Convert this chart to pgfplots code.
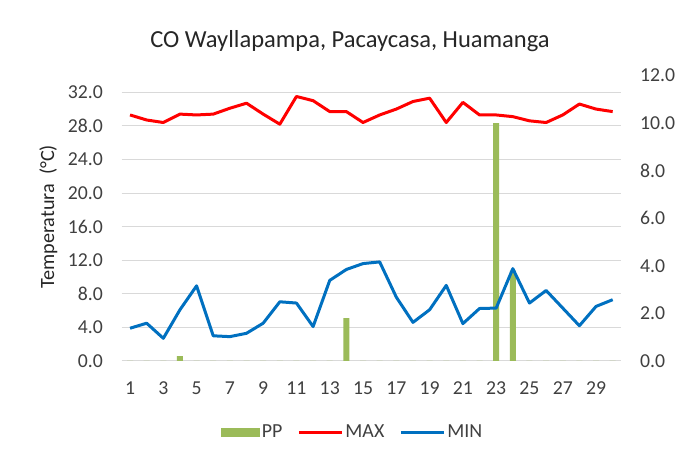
\documentclass[border=0pt]{standalone}
\usepackage{pgfplots}
\pgfplotsset{compat=1.18}
\usepackage{fontspec}
\setmainfont{Carlito}
\definecolor{ppgreen}{HTML}{9BBB59}
\definecolor{maxred}{HTML}{FF0000}
\definecolor{minblue}{HTML}{0070C0}
\definecolor{gridgray}{HTML}{D9D9D9}
\definecolor{txt}{HTML}{404040}

\pgfplotstableread{
day pp max min
1 0 29.3 3.9
2 0 28.7 4.5
3 0 28.4 2.7
4 0.2 29.4 6.1
5 0 29.3 8.95
6 0 29.4 3.0
7 0 30.1 2.9
8 0 30.7 3.3
9 0 29.4 4.5
10 0 28.2 7.05
11 0 31.5 6.9
12 0 31.0 4.1
13 0 29.7 9.6
14 1.8 29.7 10.9
15 0 28.4 11.6
16 0 29.3 11.8
17 0 30.0 7.6
18 0 30.9 4.6
19 0 31.3 6.1
20 0 28.4 9.0
21 0 30.8 4.45
22 0 29.3 6.25
23 10.0 29.3 6.3
24 3.8 29.1 11.0
25 0 28.6 6.9
26 0 28.4 8.4
27 0 29.3 6.3
28 0 30.6 4.2
29 0 30.0 6.5
30 0 29.7 7.3
}\datatable

\pgfplotsset{
  common/.style={
    scale only axis, width=499.3bp, height=285.5bp,
    at={(121.7bp,94bp)}, anchor=south west,
    xmin=0.5, xmax=30.5,
    axis line style={draw=none}, tick style={draw=none},
    /pgf/number format/assume math mode=true,
    ticklabel style={font=\fontsize{19.8}{20}\selectfont, text=txt, inner sep=0pt},
  }
}

\begin{document}
\begin{tikzpicture}[x=1bp,y=1bp]
\useasboundingbox (0,0) rectangle (684,455);
\node[font=\fontsize{24.6}{27}\selectfont, text=black!85] at (350,414) {CO Wayllapampa, Pacaycasa, Huamanga};

% axis 1: left scale, grid, labels
\begin{axis}[common,
  ymin=0, ymax=34,
  ytick={0,4,...,32}, xtick={1,3,...,29},
  ymajorgrids, grid style={gridgray, line width=1bp},
  y tick label style={/pgf/number format/fixed, /pgf/number format/fixed zerofill, /pgf/number format/precision=1, anchor=east, xshift=-18.7bp},
  xticklabel style={anchor=north, yshift=-21bp},
  ylabel={Temperatura\ \ (°C)},
  ylabel style={at={(axis description cs:-0.147,0.505)}, anchor=center, font=\fontsize{20.3}{21}\selectfont, text=black!85},
]
\end{axis}

% axis 2: right scale, PP bars
\begin{axis}[common,
  ymin=0, ymax=12,
  axis y line*=right, axis x line=none,
  ytick={0,2,...,12},
  y tick label style={/pgf/number format/fixed, /pgf/number format/fixed zerofill, /pgf/number format/precision=1, anchor=west, xshift=19bp},
  ybar, bar width=6bp, bar shift=0pt,
]
\addplot[fill=ppgreen, draw=none] table[x=day, y=pp] {\datatable};
\end{axis}

% axis 3: lines on top
\begin{axis}[common,
  ymin=0, ymax=34,
  hide axis,
  legend columns=3,
  legend style={draw=none, fill=none, at={(0.463,-0.249)}, anchor=center,
    font=\fontsize{20}{21}\selectfont, text=txt,
    /tikz/every even column/.append style={column sep=13bp}},
]
\addlegendimage{legend image code/.code={\fill[ppgreen] (0bp,-4bp) rectangle (38bp,4bp);}}
\addlegendentry{PP}
\addplot[maxred, line width=3bp, line join=round,
  legend image code/.code={\draw[maxred, line width=3bp] (0bp,0bp) -- (43bp,0bp);}]
  table[x=day, y=max] {\datatable};
\addlegendentry{MAX}
\addplot[minblue, line width=3bp, line join=round,
  legend image code/.code={\draw[minblue, line width=3bp] (0bp,0bp) -- (43bp,0bp);}]
  table[x=day, y=min] {\datatable};
\addlegendentry{MIN}
\end{axis}
\end{tikzpicture}
\end{document}
